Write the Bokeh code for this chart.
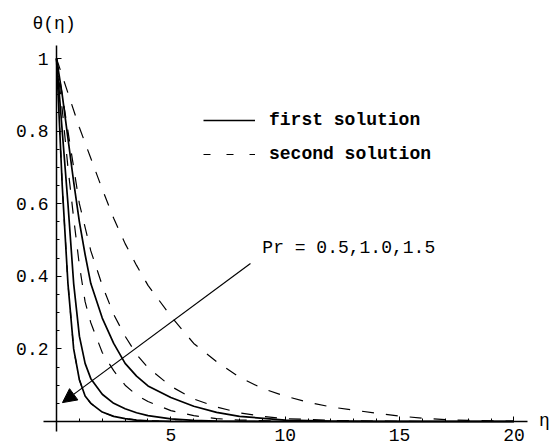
from bokeh.plotting import figure
from bokeh.models import Range1d, Label, Arrow, NormalHead, FixedTicker, Legend, LegendItem
from bokeh.embed import file_html
from bokeh.resources import INLINE

# Temperature profiles theta(eta) for Pr = 0.5, 1.0, 1.5
eta_first_15 = [0, 0.25, 0.5, 0.75, 1.0, 1.25, 1.5, 2.0, 2.5, 3.0, 3.5, 4.0, 5.0, 6.0, 8.0, 12.0, 20.0]
theta_first_15 = [1.0, 0.65, 0.38, 0.2, 0.115, 0.07, 0.05, 0.026, 0.014, 0.008, 0.004, 0.002, 0.0005, 0.0, 0.0, 0.0, 0.0]

eta_first_10 = [0, 0.25, 0.5, 0.75, 1.0, 1.25, 1.5, 2.0, 2.5, 3.0, 3.5, 4.0, 5.0, 6.0, 7.0, 9.0, 12.0, 20.0]
theta_first_10 = [1.0, 0.8, 0.6, 0.38, 0.235, 0.16, 0.118, 0.075, 0.05, 0.035, 0.024, 0.016, 0.007, 0.003, 0.001, 0.0, 0.0, 0.0]

eta_first_05 = [0, 0.25, 0.5, 0.75, 1.0, 1.25, 1.5, 2.0, 2.5, 3.0, 3.5, 4.0, 5.0, 6.0, 7.0, 8.0, 10.0, 12.0, 14.0, 20.0]
theta_first_05 = [1.0, 0.9, 0.78, 0.66, 0.55, 0.46, 0.38, 0.285, 0.215, 0.16, 0.125, 0.098, 0.066, 0.042, 0.025, 0.014, 0.004, 0.001, 0.0, 0.0]

eta_second_15 = [0, 0.25, 0.5, 0.75, 1.0, 1.25, 1.5, 2.0, 2.5, 3.0, 3.5, 4.0, 5.0, 6.0, 7.0, 8.0, 10.0, 12.0, 20.0]
theta_second_15 = [1.0, 0.86, 0.7, 0.56, 0.43, 0.33, 0.272, 0.19, 0.14, 0.1, 0.073, 0.055, 0.03, 0.016, 0.008, 0.004, 0.001, 0.0, 0.0]

eta_second_10 = [0, 0.5, 1.0, 1.5, 2.0, 2.5, 3.0, 3.5, 4.0, 5.0, 6.0, 7.0, 8.0, 9.0, 10.0, 12.0, 14.0, 16.0, 20.0]
theta_second_10 = [1.0, 0.8, 0.6, 0.47, 0.375, 0.295, 0.235, 0.185, 0.148, 0.097, 0.062, 0.04, 0.024, 0.014, 0.008, 0.003, 0.001, 0.0, 0.0]

eta_second_05 = [0, 0.5, 1.0, 1.5, 2.0, 2.5, 3.0, 3.5, 4.0, 5.0, 6.0, 7.0, 8.0, 9.0, 10.0, 11.0, 12.0, 13.0, 14.0, 15.0, 16.0, 17.0, 18.0, 20.0]
theta_second_05 = [1.0, 0.905, 0.81, 0.725, 0.64, 0.56, 0.49, 0.43, 0.375, 0.29, 0.215, 0.165, 0.122, 0.091, 0.07, 0.053, 0.04, 0.031, 0.023, 0.015, 0.009, 0.005, 0.003, 0.001]

x_ticks = [5, 10, 15, 20]
x_tick_labels = ["5", "10", "15", "20"]
y_ticks = [0.2, 0.4, 0.6, 0.8, 1.0]
y_tick_labels = ["0.2", "0.4", "0.6", "0.8", "1"]

FONT = "Liberation Mono"

# the frame fills the whole canvas; the axes cross at the origin
p = figure(width=553, height=446, output_backend="svg", toolbar_location=None,
           x_range=Range1d(-2.449, 21.73), y_range=Range1d(-0.0689, 1.1598),
           min_border=0)
p.outline_line_color = None
p.grid.visible = False
p.background_fill_color = "white"

for ax in (p.xaxis, p.yaxis):
    ax.fixed_location = 0
    ax.axis_line_color = "black"
    ax.axis_line_width = 1.5
    ax.major_tick_in = 5
    ax.major_tick_out = 0
    ax.minor_tick_in = 3
    ax.minor_tick_out = 0
    ax.major_tick_line_color = "black"
    ax.minor_tick_line_color = "black"
    ax.major_label_text_font = FONT
    ax.major_label_text_font_size = "18px"
    ax.major_label_text_color = "black"
    ax.major_label_standoff = 8

p.xaxis.bounds = (-0.568, 20.59)
p.yaxis.bounds = (-0.0275, 1.036)
p.xaxis.ticker = FixedTicker(ticks=x_ticks, minor_ticks=list(range(0, 21)))
p.xaxis.major_label_overrides = dict(zip(x_ticks, x_tick_labels))
p.yaxis.ticker = FixedTicker(ticks=y_ticks, minor_ticks=[i * 0.05 for i in range(0, 21)])
p.yaxis.major_label_overrides = dict(zip(y_ticks, y_tick_labels))

solid = dict(line_color="black", line_width=1.7)
dashed = dict(line_color="black", line_width=1.2, line_dash="12 12")

r_first_15 = p.line(eta_first_15, theta_first_15, **solid)
p.line(eta_first_10, theta_first_10, **solid)
p.line(eta_first_05, theta_first_05, **solid)
p.line(eta_second_15, theta_second_15, **dashed)
p.line(eta_second_10, theta_second_10, **dashed)
p.line(eta_second_05, theta_second_05, **dashed)

# short-dash key for the legend, laid over a solid curve so it adds nothing visible
key_dashed = p.line(eta_first_15, theta_first_15, line_color="black", line_width=1.2, line_dash="7 16")

legend = Legend(items=[LegendItem(label="first solution", renderers=[r_first_15]),
                       LegendItem(label="second solution", renderers=[key_dashed])],
                location=(203, 282), orientation="vertical",
                glyph_width=52, glyph_height=20, label_height=20, label_standoff=14,
                spacing=14, padding=0, margin=0,
                border_line_color=None, background_fill_alpha=0,
                label_text_font=FONT, label_text_font_size="18px",
                label_text_font_style="bold", label_text_color="black")
p.add_layout(legend)

# arrow through the curves in the direction of increasing Pr
p.add_layout(Arrow(end=NormalHead(size=14, fill_color="black", line_color="black"),
                   x_start=8.48, y_start=0.435, x_end=0.26, y_end=0.052,
                   line_color="black", line_width=1.2))

p.add_layout(Label(x=9.0, y=0.479, text="Pr = 0.5,1.0,1.5", text_font=FONT,
                   text_font_size="18px", text_baseline="middle", text_color="black"))
p.add_layout(Label(x=-1.05, y=1.094, text="θ(η)", text_font=FONT,
                   text_font_size="18px", text_baseline="middle", text_color="black"))
p.add_layout(Label(x=21.1, y=0.0, text="η", text_font=FONT,
                   text_font_size="18px", text_baseline="middle", text_color="black"))

open("out.html", "w").write(file_html(p, INLINE))
